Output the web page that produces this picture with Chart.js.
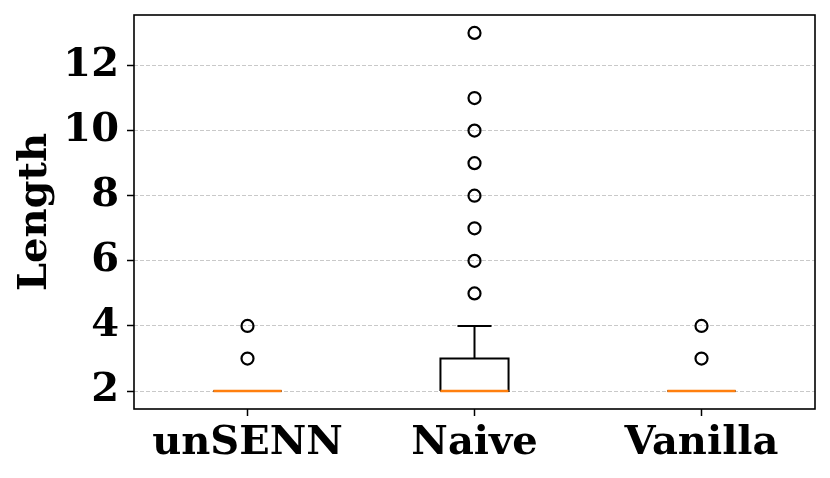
<!DOCTYPE html>
<html>
<head>
<meta charset="utf-8">
<script src="https://cdn.jsdelivr.net/npm/chart.js@4"></script>
<style>
  html, body { margin: 0; padding: 0; background: #fff; }
</style>
</head>
<body>
<canvas id="boxChart" width="830" height="478"></canvas>
<script>
// box plot data, one entry per category
const categories = ['unSENN', 'Naive', 'Vanilla'];
const q1Values = [2, 2, 2];
const medianValues = [2, 2, 2];
const q3Values = [2, 3, 2];
const whiskerLow = [2, 2, 2];
const whiskerHigh = [2, 4, 2];
const outlierValues = [[3, 4], [5, 6, 7, 8, 9, 10, 11, 13], [3, 4]];
const yTicks = [2, 4, 6, 8, 10, 12];

const boxWidth = 0.3;
const capWidth = 0.15;
const tickFont = { family: 'DejaVu Serif', size: 40, weight: 'bold' };

function seg(points, color, width) {
  return {
    data: points,
    showLine: true,
    borderColor: color,
    borderWidth: width || 2,
    pointRadius: 0,
    pointHoverRadius: 0,
    fill: false
  };
}

const medians = [];
const boxes = [];
const fliers = [];
categories.forEach((name, i) => {
  const x = i + 1;
  const h = boxWidth / 2, c = capWidth / 2;
  medians.push(seg([{ x: x - h, y: medianValues[i] }, { x: x + h, y: medianValues[i] }], '#ff7f0e', 2.5));
  boxes.push(seg([
    { x: x - h, y: q1Values[i] }, { x: x + h, y: q1Values[i] },
    { x: x + h, y: q3Values[i] }, { x: x - h, y: q3Values[i] },
    { x: x - h, y: q1Values[i] }
  ], '#000'));
  boxes.push(seg([{ x: x, y: q1Values[i] }, { x: x, y: whiskerLow[i] }], '#000'));
  boxes.push(seg([{ x: x, y: q3Values[i] }, { x: x, y: whiskerHigh[i] }], '#000'));
  boxes.push(seg([{ x: x - c, y: whiskerLow[i] }, { x: x + c, y: whiskerLow[i] }], '#000'));
  boxes.push(seg([{ x: x - c, y: whiskerHigh[i] }, { x: x + c, y: whiskerHigh[i] }], '#000'));
  fliers.push({
    data: outlierValues[i].map(v => ({ x: x, y: v })),
    showLine: false,
    pointRadius: 6,
    pointHoverRadius: 6,
    borderWidth: 2.2,
    borderColor: '#000',
    backgroundColor: 'rgba(0,0,0,0)'
  });
});

// black frame round the plot area
const frame = {
  id: 'frame',
  afterDraw(chart) {
    const a = chart.chartArea, ctx = chart.ctx;
    ctx.save();
    ctx.strokeStyle = '#000';
    ctx.lineWidth = 1.6;
    ctx.strokeRect(a.left, a.top, a.right - a.left, a.bottom - a.top);
    ctx.restore();
  }
};

new Chart(document.getElementById('boxChart').getContext('2d'), {
  type: 'scatter',
  data: { datasets: [...medians, ...boxes, ...fliers] },
  plugins: [frame],
  options: {
    responsive: false,
    animation: false,
    layout: { padding: { top: 15, right: 15, left: 0, bottom: 0 } },
    plugins: { legend: { display: false }, tooltip: { enabled: false } },
    scales: {
      x: {
        type: 'linear',
        min: 0.5,
        max: 3.5,
        afterBuildTicks: s => { s.ticks = categories.map((_, i) => ({ value: i + 1 })); },
        afterFit: s => { s.height = 69; s.paddingLeft = 0; s.paddingRight = 0; },
        ticks: {
          color: '#000',
          font: tickFont,
          padding: 4,
          maxRotation: 0,
          callback: v => categories[v - 1]
        },
        grid: { drawOnChartArea: false, tickLength: 7, tickColor: '#000', tickWidth: 1.5 },
        border: { display: false }
      },
      y: {
        min: 1.45,
        max: 13.55,
        afterBuildTicks: s => { s.ticks = yTicks.map(v => ({ value: v })); },
        afterFit: s => { s.width = 134; s.paddingTop = 0; s.paddingBottom = 0; },
        title: {
          display: true,
          text: 'Length',
          color: '#000',
          font: tickFont,
          padding: { top: 12, bottom: 0 }
        },
        ticks: { color: '#000', font: tickFont, padding: 8 },
        grid: {
          color: '#bbbbbb',
          lineWidth: 0.8,
          tickLength: 7,
          tickColor: '#000',
          tickWidth: 1.5,
          tickBorderDash: []
        },
        border: { display: false, dash: [4, 2] }
      }
    }
  }
});
</script>
</body>
</html>
